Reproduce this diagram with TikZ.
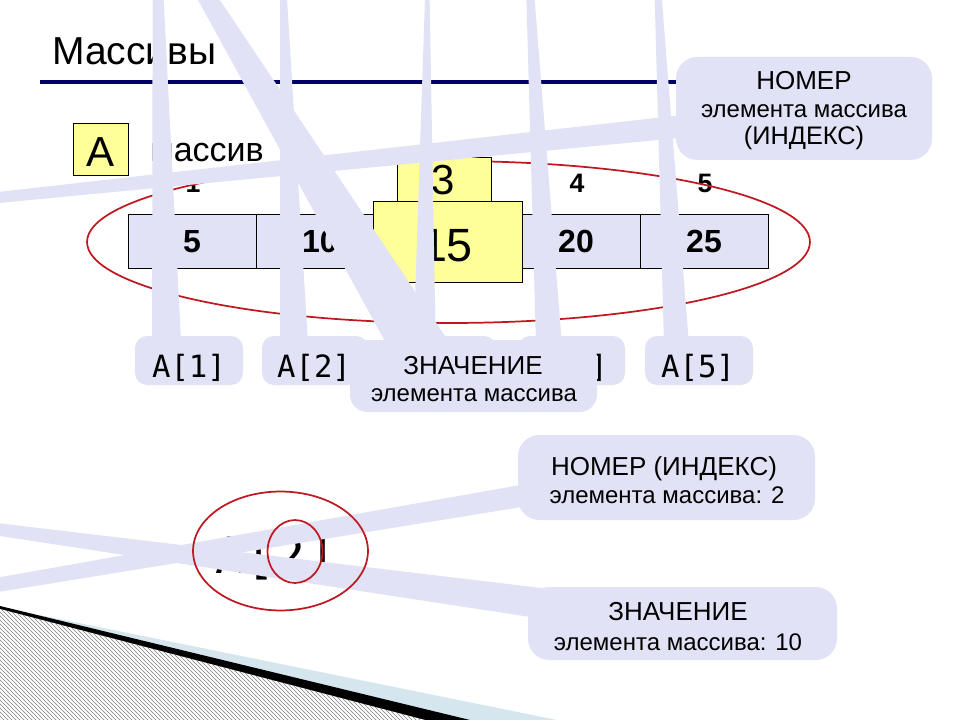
\documentclass[tikz,border=0pt]{standalone}
\usepackage{fontspec}
\setmainfont{Liberation Sans}
\newfontfamily\monof{DejaVu Sans Mono}
\usetikzlibrary{patterns}
\definecolor{lav}{RGB}{226,226,246}
\definecolor{navyline}{RGB}{0,0,102}
\definecolor{ellred}{RGB}{192,24,32}
\definecolor{yel}{RGB}{255,255,153}
\definecolor{swblue}{RGB}{214,230,238}
\begin{document}
\begin{tikzpicture}[x=0.75pt,y=-0.75pt,
  lbl/.style={inner sep=0pt,anchor=base},
  calwedge/.style={fill=lav,draw=none},
  calbox/.style={fill=lav,draw=none,rounded corners=9pt},
  bigbox/.style={fill=lav,draw=none,rounded corners=16pt},
  yelbox/.style={fill=yel,draw=black,line width=0.75pt},
  cellbox/.style={fill=lav,draw=black,line width=0.75pt},
  redring/.style={draw=ellred,line width=1.3pt},
  monotxt/.style={lbl,font=\monof\fontsize{23}{26}\selectfont},
  valtxt/.style={lbl,font=\bfseries\fontsize{24}{26}\selectfont},
  idxtxt/.style={lbl,font=\bfseries\fontsize{20}{22}\selectfont}]
\useasboundingbox (0,0) rectangle (960,720);
\clip (0,0) rectangle (960,720);

% background swoosh (bottom left)
\fill[swblue] (0,607) -- (557,720) -- (0,720) -- cycle;
\fill[black] (0,606) -- (470,720) -- (0,720) -- cycle;
\fill[white] (0,609) -- (425,720) -- (0,720) -- cycle;
\fill[pattern=north west lines,pattern color=gray] (0,609) -- (425,720) -- (0,720) -- cycle;

% title
\node[lbl,anchor=base west,font=\fontsize{29.25}{31}\selectfont] (title) at (52,65) {Массивы};
\draw[navyline,line width=3pt] (40,82) -- (690,82);

% array name
\draw[yelbox] (73,124) rectangle (128,176);
\node[lbl,font=\fontsize{31.5}{33}\selectfont] (nameA) at (100.5,167) {A};
\node[lbl,anchor=base east,font=\fontsize{25.5}{27}\selectfont] (massiv) at (264,162) {массив};

% indices
\node[idxtxt] (i1) at (193,193) {1};
\node[idxtxt] (i4) at (577,193) {4};
\node[idxtxt] (i5) at (705,193) {5};

% cells
\draw[cellbox] (128,215) rectangle (768,269);
\foreach \xx in {256,384,512,640} \draw[line width=0.75pt] (\xx,215) -- (\xx,269);
\node[valtxt] (v1) at (192,253) {5};
\node[valtxt] (v2) at (320,253) {10};
\node[valtxt] (v4) at (576,253) {20};
\node[valtxt] (v5) at (704,253) {25};

% red ellipse round the array
\draw[redring] (448.5,242) ellipse [x radius=271.1pt,y radius=60.75pt];

% yellow highlighted element
\draw[yelbox] (397,158) rectangle (491,202);
\draw[yelbox] (373,202) rectangle (522,283);
\node[lbl,font=\fontsize{31.5}{33}\selectfont] (three) at (443,195) {3};
\node[lbl,font=\fontsize{35}{37}\selectfont] (fifteen) at (447,262) {15};

% bottom expression
\node[lbl,font=\monof\fontsize{37.5}{40}\selectfont] (expr) at (276,573) {A[2]};

% callout wedges
\coordinate (t1) at (153,-210);
\coordinate (t2) at (280,-117);
\coordinate (t3) at (428,-93);
\coordinate (t4) at (522,-160);
\coordinate (t5) at (651,-140);
\coordinate (tZ) at (100,-179);
\coordinate (tN) at (-660,266);
\coordinate (tU) at (-987,752);
\coordinate (tD) at (-380,478);
\fill[calwedge] (t1) -- (152,360) -- (182,360) -- cycle;
\fill[calwedge] (t2) -- (280,360) -- (309,360) -- cycle;
\fill[calwedge] (t3) -- (413,360) -- (436,360) -- cycle;
\fill[calwedge] (t4) -- (536,345) -- (562,345) -- cycle;
\fill[calwedge] (t5) -- (664,345) -- (689,345) -- cycle;
\fill[calwedge] (tZ) -- (387,345) -- (451,345) -- cycle;
\fill[calwedge] (tN) -- (700,113) -- (700,136) -- cycle;
\fill[calwedge] (tU) -- (540,481.5) -- (540,504) -- cycle;
\fill[calwedge] (tD) -- (550,589) -- (550,620) -- cycle;

% callout boxes for A[1]..A[5]
\path[calbox] (135,336) rectangle (243,385);
\path[calbox] (262,336) rectangle (368,385);
\path[calbox] (390,336) rectangle (496,385);
\path[calbox] (518,336) rectangle (625,385);
\path[calbox] (645,336) rectangle (753,385);
\node[monotxt] (a1) at (189,377) {A[1]};
\node[monotxt] (a2) at (314,377) {A[2]};
\node[monotxt,anchor=base east] (a4) at (608,377) {]};
\node[monotxt] (a5) at (698,377) {A[5]};

% value callout (top)
\path[bigbox,rounded corners=13pt] (350,340) rectangle (597,412);
\node[lbl,font=\fontsize{19.5}{21}\selectfont] (zn1) at (473,374) {ЗНАЧЕНИЕ};
\node[lbl,font=\fontsize{18}{20}\selectfont] (zn2) at (474,401) {элемента массива};

% index callout (top right)
\path[bigbox] (676,57) rectangle (932,160);
\node[lbl,font=\fontsize{19.5}{21}\selectfont] (nm1) at (804,90) {НОМЕР};
\node[lbl,font=\fontsize{18}{20}\selectfont] (nm2) at (804,118) {элемента массива};
\node[lbl,font=\fontsize{19}{21}\selectfont] (nm3) at (804,145) {(ИНДЕКС)};

% bottom callouts
\path[bigbox] (518,435) rectangle (815,520);
\node[lbl,font=\fontsize{19.5}{21}\selectfont] (bn1) at (664,475) {НОМЕР (ИНДЕКС)};
\node[lbl,font=\fontsize{18}{20}\selectfont] (bn2) at (667,503) {элемента массива: 2};
\path[bigbox] (528,587) rectangle (837,660);
\node[lbl,font=\fontsize{19.5}{21}\selectfont] (bz1) at (678,620) {ЗНАЧЕНИЕ};
\node[lbl,font=\fontsize{18}{20}\selectfont] (bz2) at (678,650) {элемента массива: 10};

% red rings at the bottom (over the wedges)
\draw[redring] (280.5,551) ellipse [x radius=65.6pt,y radius=44.6pt];
\draw[redring] (295,551.5) ellipse [x radius=20.6pt,y radius=23.6pt];
\end{tikzpicture}
\end{document}
